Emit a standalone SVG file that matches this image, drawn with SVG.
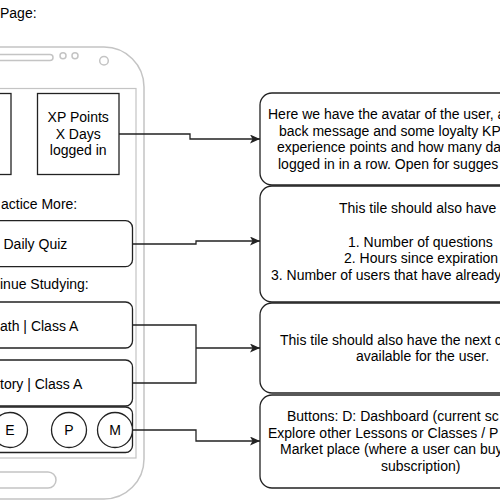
<svg xmlns="http://www.w3.org/2000/svg" width="500" height="500" viewBox="0 0 500 500">
<defs>
<style>
text{font-family:"Liberation Sans",Arial,sans-serif;font-size:14px;fill:#000}
.ph{fill:#fff;stroke:#c4c4c4;stroke-width:1.5}
.scr{fill:#fff;stroke:#c4c4c4;stroke-width:1.2}
.box{fill:#fff;stroke:#222;stroke-width:1.3}
.c{fill:none;stroke:#222;stroke-width:1.3}
.m{text-anchor:middle}
</style>
<marker id="arr" markerUnits="userSpaceOnUse" markerWidth="12" markerHeight="10" refX="10" refY="4.5" orient="auto">
<path d="M0,0 L10,4.5 L0,9 L2.5,4.5 Z" fill="#222"/>
</marker>
</defs>
<rect width="500" height="500" fill="#fff"/>
<text x="0" y="18">Page:</text>
<g id="phone">
<rect class="ph" x="-200" y="47" width="344" height="452" rx="40"/>
<rect class="ph" x="-40" y="54.5" width="93" height="6" rx="3" stroke-width="1.3"/>
<circle class="ph" cx="63" cy="55.7" r="3" stroke-width="1.2"/>
<circle class="ph" cx="75" cy="55.7" r="3" stroke-width="1.2"/>
<circle class="ph" cx="104" cy="60.7" r="4.3" stroke-width="1.2"/>
<rect class="scr" x="-200" y="88.5" width="336" height="369.5"/>
<rect class="ph" x="-40" y="472" width="96" height="16" rx="8" stroke-width="1.3"/>
</g>
<g id="avatar"><rect class="box" x="-60" y="93.5" width="71" height="81"/></g>
<g id="xp">
<rect class="box" x="37.5" y="93.5" width="81.5" height="81"/>
<text class="m" x="78.2" y="121.5">XP Points</text>
<text class="m" x="78.2" y="138.5">X Days</text>
<text class="m" x="78.2" y="155">logged in</text>
</g>
<text x="1" y="209">actice More:</text>
<g id="quiz">
<rect class="box" x="-60" y="220.7" width="192.5" height="46" rx="7"/>
<text x="3.5" y="249.3">Daily Quiz</text>
</g>
<text x="0" y="289">inue Studying:</text>
<g id="math">
<rect class="box" x="-60" y="302" width="192.5" height="46" rx="7"/>
<text x="0" y="331">ath | Class A</text>
</g>
<g id="history">
<rect class="box" x="-60" y="360" width="192.5" height="46" rx="7"/>
<text x="0" y="389">tory | Class A</text>
</g>
<g id="buttons">
<rect class="box" x="-60" y="407" width="192.5" height="45.5" rx="7"/>
<circle class="box" cx="10" cy="430" r="17.5"/>
<circle class="box" cx="69" cy="430" r="17.5"/>
<circle class="box" cx="115" cy="430" r="17.5"/>
<text class="m" x="10" y="435">E</text>
<text class="m" x="69" y="435">P</text>
<text class="m" x="115" y="435">M</text>
</g>
<g id="connectors">
<path class="c" d="M119,134 H190 V139 H260" marker-end="url(#arr)"/>
<path class="c" d="M132.5,244 H196 V241 H260" marker-end="url(#arr)"/>
<path class="c" d="M132.5,325 H196 V383 H132.5"/>
<path class="c" d="M196,348 H260" marker-end="url(#arr)"/>
<path class="c" d="M132.5,430 H196 V441 H260" marker-end="url(#arr)"/>
</g>
<g id="note1">
<rect class="box" x="260" y="93" width="300" height="92" rx="12"/>
<text x="268" y="118.5">Here we have the avatar of the user, a</text>
<text x="279" y="135.5">back message and some loyalty KP</text>
<text x="277" y="152.3">experience points and how many da</text>
<text x="278" y="169">logged in in a row. Open for sugges</text>
</g>
<g id="note2">
<rect class="box" x="260" y="186" width="300" height="116" rx="12"/>
<text x="339" y="212.7">This tile should also have</text>
<text x="348" y="246.5">1. Number of questions</text>
<text x="344" y="263">2. Hours since expiration</text>
<text x="271" y="279.8">3. Number of users that have already</text>
</g>
<g id="note3">
<rect class="box" x="260" y="303" width="300" height="90" rx="12"/>
<text x="280" y="344.5">This tile should also have the next c</text>
<text x="356" y="361">available for the user.</text>
</g>
<g id="note4">
<rect class="box" x="260" y="395" width="300" height="93" rx="12"/>
<text x="287" y="421">Buttons: D: Dashboard (current sc</text>
<text x="268" y="437.7">Explore other Lessons or Classes / P</text>
<text x="280" y="454.3">Market place (where a user can buy</text>
<text x="381" y="471">subscription)</text>
</g>
</svg>
